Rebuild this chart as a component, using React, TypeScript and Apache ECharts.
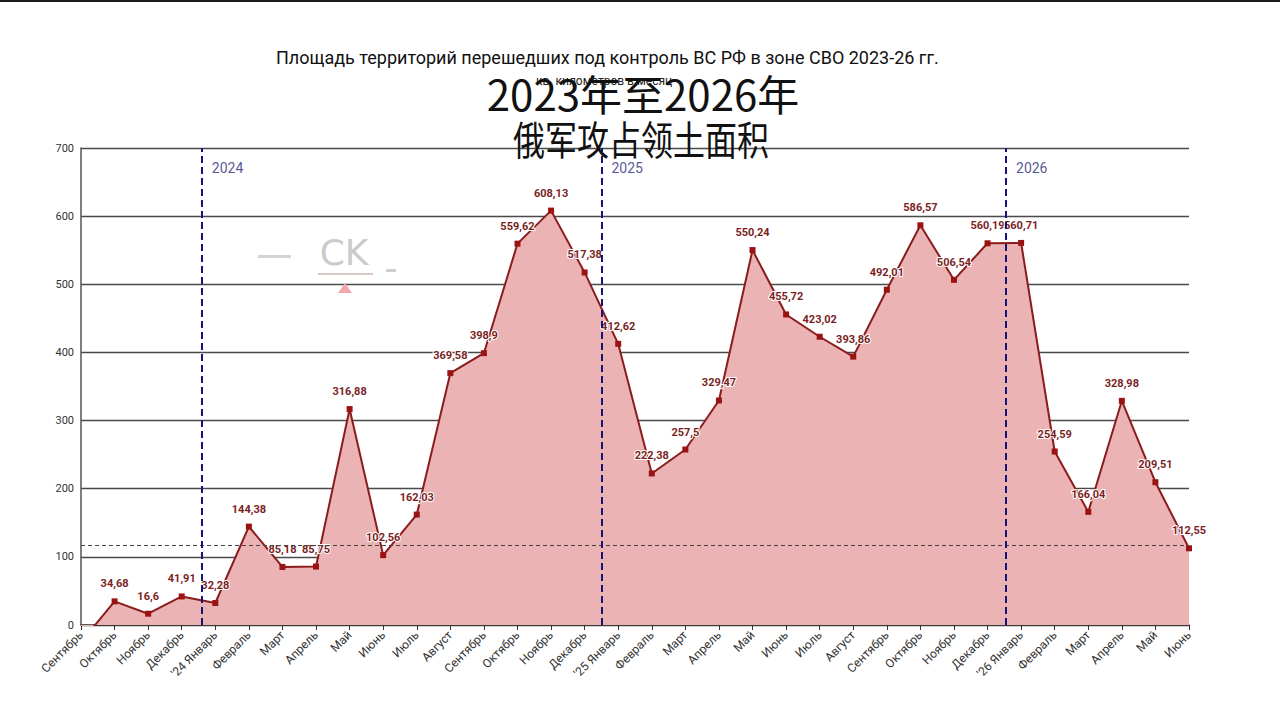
import React, { useEffect, useRef } from "react";
import * as echarts from "echarts";

const months: string[] = [
  "Сентябрь", "Октябрь", "Ноябрь", "Декабрь",
  "'24 Январь", "Февраль", "Март", "Апрель", "Май", "Июнь", "Июль", "Август", "Сентябрь", "Октябрь", "Ноябрь", "Декабрь",
  "'25 Январь", "Февраль", "Март", "Апрель", "Май", "Июнь", "Июль", "Август", "Сентябрь", "Октябрь", "Ноябрь", "Декабрь",
  "'26 Январь", "Февраль", "Март", "Апрель", "Май", "Июнь",
];

// Sept 2023 starts below the axis (clipped), estimated
const areaKm2: number[] = [
  -25, 34.68, 16.6, 41.91,
  32.28, 144.38, 85.18, 85.75, 316.88, 102.56, 162.03, 369.58, 398.9, 559.62, 608.13, 517.38,
  412.62, 222.38, 257.5, 329.47, 550.24, 455.72, 423.02, 393.86, 492.01, 586.57, 506.54, 560.19,
  560.71, 254.59, 166.04, 328.98, 209.51, 112.55,
];

const yearNames: string[] = ["2024", "2025", "2026"];
const yearBoundaries: number[] = [3.6, 15.5, 27.55];
const referenceLevel: number = 117;
const yTicks = { min: 0, max: 700, interval: 100 };

const titleText = "Площадь территорий перешедших под контроль ВС РФ в зоне СВО 2023-26 гг.";
const subText = "кв. километров в месяц";
const cnLine1 = "2023年至2026年";
const cnLine2 = "俄军攻占领土面积";

export default function App() {
  const ref = useRef<HTMLDivElement>(null);
  useEffect(() => {
    if (!ref.current) return;
    const chart = echarts.init(ref.current, undefined, { renderer: "svg" });
    const option: any = {
      animation: false,
      backgroundColor: "#ffffff",
      textStyle: { fontFamily: "Roboto, 'Noto Sans', sans-serif" },
      grid: { left: 81, right: 91, top: 148, bottom: 95, containLabel: false },
      xAxis: [
        {
          type: "category",
          data: months,
          boundaryGap: false,
          axisLine: { show: true, lineStyle: { color: "#333", width: 1.5 } },
          axisTick: { show: true, length: 5, lineStyle: { color: "#333" } },
          axisLabel: { interval: 0, rotate: 45, fontSize: 12, color: "#333", margin: 8 },
          splitLine: { show: false },
        },
        { type: "value", min: 0, max: months.length - 1, show: false },
      ],
      yAxis: {
        type: "value",
        min: yTicks.min,
        max: yTicks.max,
        interval: yTicks.interval,
        axisLine: { show: true, lineStyle: { color: "#555", width: 1.5 } },
        axisTick: { show: false },
        axisLabel: { fontSize: 11, color: "#333", margin: 7 },
        splitLine: { show: true, lineStyle: { color: "#4a4a4a", width: 1.3 } },
      },
      title: [
        {
          text: titleText,
          left: 271,
          top: 43,
          textStyle: { fontSize: 18, fontWeight: "normal", color: "#111", fontFamily: "Roboto" },
        },
        {
          text: subText,
          left: 531,
          top: 70,
          textStyle: { fontSize: 12, fontWeight: "normal", color: "#222", fontFamily: "Roboto" },
        },
      ],
      graphic: [
        { type: "rect", shape: { x: 0, y: 0, width: 1280, height: 2 }, style: { fill: "#1a1a1a" }, z: 100 },
        {
          type: "text",
          x: 643,
          y: 92,
          z: 100,
          style: {
            text: cnLine1,
            fontSize: 42,
            fontFamily: "'Noto Sans CJK SC', sans-serif",
            fill: "#111",
            align: "center",
            verticalAlign: "middle",
          },
        },
        {
          type: "text",
          x: 641,
          y: 137,
          scaleX: 0.8,
          z: 100,
          style: {
            text: cnLine2,
            fontSize: 40,
            fontFamily: "'Noto Sans CJK SC', sans-serif",
            fill: "#111",
            align: "center",
            verticalAlign: "middle",
          },
        },
        // watermark
        { type: "rect", shape: { x: 258, y: 255, width: 33, height: 3 }, style: { fill: "#d4d4d4" }, z: 5 },
        {
          type: "text",
          x: 344,
          y: 252,
          z: 5,
          style: {
            text: "CK",
            fontSize: 36,
            fontFamily: "'DejaVu Sans', sans-serif",
            fill: "#cbcbcb",
            align: "center",
            verticalAlign: "middle",
          },
        },
        { type: "rect", shape: { x: 318, y: 273, width: 55, height: 2 }, style: { fill: "#ddc6c6" }, z: 5 },
        { type: "rect", shape: { x: 386, y: 269, width: 10, height: 3 }, style: { fill: "#cfcfcf" }, z: 5 },
        {
          type: "polygon",
          shape: { points: [[338, 293], [352, 293], [345, 283]] },
          style: { fill: "#f2a7ae" },
          z: 5,
        },
      ],
      series: [
        {
          type: "line",
          xAxisIndex: 0,
          data: areaKm2,
          clip: true,
          symbol: "rect",
          symbolSize: 6,
          itemStyle: { color: "#9a1212" },
          lineStyle: { color: "#8b1c1c", width: 2 },
          areaStyle: { color: "#ebb3b3", opacity: 1 },
          label: {
            show: true,
            position: "top",
            distance: 9,
            fontSize: 11,
            fontWeight: "bold",
            color: "#7a1f1f",
            textBorderColor: "#ffffff",
            textBorderWidth: 2,
            formatter: (p: any) => (p.value < 0 ? "" : String(p.value).replace(".", ",")),
          },
          markLine: {
            silent: true,
            symbol: "none",
            label: { show: false },
            lineStyle: { color: "#444", type: [4, 3], width: 1 },
            data: [{ yAxis: referenceLevel }],
          },
          z: 3,
        },
        {
          type: "scatter",
          xAxisIndex: 1,
          data: yearBoundaries.map((b, i) => ({ value: [b, 670], name: yearNames[i] })),
          symbolSize: 0,
          label: {
            show: true,
            position: "right",
            distance: 10,
            fontSize: 14,
            color: "#2a2a7a",
            formatter: (p: any) => p.name,
          },
          markLine: {
            silent: true,
            symbol: "none",
            label: { show: false },
            lineStyle: { color: "#14147a", type: [7, 4], width: 2 },
            data: yearBoundaries.map((b) => ({ xAxis: b })),
          },
          z: 4,
        },
      ],
    };
    chart.setOption(option);
    return () => chart.dispose();
  }, []);
  return (
    <div
      ref={ref}
      style={{ position: "fixed", left: 0, top: 0, width: 1280, height: 720, background: "#fff" }}
    />
  );
}
